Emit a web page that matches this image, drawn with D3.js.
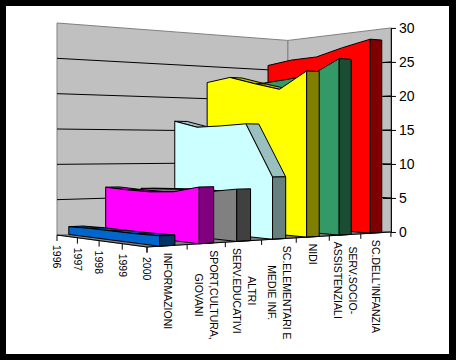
<!DOCTYPE html>
<html>
<head>
<meta charset="utf-8">
<title>Chart</title>
<script src="https://cdnjs.cloudflare.com/ajax/libs/d3/7.8.5/d3.min.js"></script>
<style>
  html, body { margin: 0; padding: 0; background: #000; }
  svg { display: block; }
  text { font-family: "Liberation Sans", Arial, sans-serif; fill: #000; }
</style>
</head>
<body>
<svg id="chart" width="456" height="360"></svg>
<script>
// data
const years = ['1996', '1997', '1998', '1999', '2000'];
const categories = ['INFORMAZIONI', 'SPORT,CULTURA,|GIOVANI', 'ALTRI|SERV.EDUCATIVI', 'SC.ELEMENTARI E|MEDIE INF.', 'NIDI', 'SERV.SOCIO-|ASSISTENZIALI', "SC.DELL'INFANZIA"];
const informazioni = [1.1, 1.2, 1.2, 1.2, 1.3];
const sport = [6.6, 6.4, 6.3, 6.5, 7.3];
const servEducativi = [6.3, 6.4, 6.5, 6.4, 6.9];
const scElementari = [16.4, 15.4, 15.5, 15.7, 8.4];
const nidi = [22.5, 23, 21.8, 20.7, 23];
const servSocio = [22, 22.3, 22.6, 23, 25];
const scInfanzia = [25.7, 26.2, 26.3, 27.3, 28.1];
const valueTicks = [0, 5, 10, 15, 20, 25, 30];

const seriesValues = [informazioni, sport, servEducativi, scElementari, nidi, servSocio, scInfanzia];
const faceColors = ['#0066cc', '#ff00ff', '#808080', '#ccffff', '#ffff00', '#339966', '#ff0000'];

const svg = d3.select('#chart');

// white page inside the black frame
svg.append('rect').attr('x', 6).attr('y', 6).attr('width', 443).attr('height', 348).attr('fill', '#fff');

const xYear = d3.scalePoint().domain(years).range([0, 1]);
const zCat = d3.scaleBand().domain(categories).range([0, 1]).paddingInner(0.62).paddingOuter(0.31);
const zStep = zCat.step();
const vScale = d3.scaleLinear().domain([0, 30]).range([0, 212]);

// perspective projection: t along years, u into the depth, v = value
function project(t, u, v) {
    const w = 1 - 0.121 * t + 0.16 * u;
    return [
        (57 + 72.2 * t + 277 * u) / w,
        (235 - 17.9 * t + 23.9 * u - vScale(v)) / w
    ];
}

const outline = d3.line();
function poly(g, pts, fill, stroke) {
    g.append('path')
        .attr('d', outline(pts) + 'Z')
        .attr('fill', fill)
        .attr('stroke', stroke || '#000')
        .attr('stroke-width', 1)
        .attr('stroke-linejoin', 'miter');
}

// walls and floor
const walls = svg.append('g');
poly(walls, [project(0, 0, 0), project(1, 0, 0), project(1, 1, 0), project(0, 1, 0)], '#808080', '#808080');
poly(walls, [project(0, 0, 0), project(0, 0, 30), project(0, 1, 30), project(0, 1, 0)], '#c0c0c0', '#808080');
poly(walls, [project(0, 1, 0), project(0, 1, 30), project(1, 1, 30), project(1, 1, 0)], '#c0c0c0', '#808080');

// gridlines on both walls
valueTicks.filter(d => d > 0 && d < 30).forEach(d => {
    walls.append('path')
        .attr('d', outline([project(0, 0, d), project(0, 1, d), project(1, 1, d)]))
        .attr('fill', 'none')
        .attr('stroke', '#000');
});

// ribbons, back to front
const ribbons = svg.append('g');
for (let i = categories.length - 1; i >= 0; i--) {
    const u0 = zCat(categories[i]);
    const u1 = u0 + zCat.bandwidth();
    const values = seriesValues[i];
    const base = d3.color(faceColors[i]);
    const g = ribbons.append('g');

    // top faces that look at the viewer (d3.polygonArea is positive for those here)
    for (let j = 0; j < years.length - 1; j++) {
        const t0 = xYear(years[j]);
        const t1 = xYear(years[j + 1]);
        const pts = [project(t0, u0, values[j]), project(t1, u0, values[j + 1]), project(t1, u1, values[j + 1]), project(t0, u1, values[j])];
        if (d3.polygonArea(pts) > 0) {
            poly(g, pts, d3.rgb(base.r * 0.75, base.g * 0.75, base.b * 0.75).formatHex());
        }
    }

    // front face
    const front = years.map((y, j) => project(xYear(y), u0, values[j]));
    front.push(project(1, u0, 0), project(0, u0, 0));
    poly(g, front, faceColors[i]);

    // end face at the last year
    const last = values[values.length - 1];
    poly(g, [project(1, u0, 0), project(1, u0, last), project(1, u1, last), project(1, u1, 0)], d3.rgb(base.r * 0.5, base.g * 0.5, base.b * 0.5).formatHex());
}

// floor axes
const axes = svg.append('g');
axes.append('path')
    .attr('d', outline([project(0, 0, 0), project(1, 0, 0), project(1, 1, 0)]))
    .attr('fill', 'none')
    .attr('stroke', '#000');

years.forEach(y => {
    const p = project(xYear(y), 0, 0);
    axes.append('line').attr('x1', p[0]).attr('x2', p[0]).attr('y1', p[1]).attr('y2', p[1] + 6).attr('stroke', '#000');
    axes.append('text')
        .attr('transform', `translate(${p[0]},${p[1] + 10}) rotate(90)`)
        .attr('dy', '0.35em')
        .attr('font-size', 10.5)
        .text(y);
});

d3.range(categories.length + 1).forEach(i => {
    const p = project(1, i * zStep, 0);
    axes.append('line').attr('x1', p[0]).attr('x2', p[0]).attr('y1', p[1]).attr('y2', p[1] + 5).attr('stroke', '#000');
});

// category labels: first line on the right, short lines centred on the long one
categories.forEach((c, i) => {
    const p = project(1, (i + 0.5) * zStep, 0);
    const lines = c.split('|');
    const g = axes.append('g');
    const texts = lines.map(line => g.append('text')
        .attr('dy', '0.35em')
        .attr('font-size', 10.5)
        .text(line));
    const lengths = texts.map(t => t.node().getComputedTextLength());
    const longest = d3.max(lengths);
    texts.forEach((t, k) => {
        const x = p[0] + ((lines.length - 1) / 2 - k) * 15;
        const y = p[1] + 7 + (longest - lengths[k]) / 2;
        t.attr('transform', `translate(${x},${y}) rotate(90)`);
    });
});

// value axis on the right wall
const yRight = d3.scaleLinear().domain([0, 30]).range([project(1, 1, 0)[1], project(1, 1, 30)[1]]);
const rightAxis = svg.append('g')
    .attr('transform', `translate(${project(1, 1, 0)[0]},0)`)
    .call(d3.axisRight(yRight).tickValues(valueTicks).tickSize(5).tickSizeOuter(0).tickPadding(3));
rightAxis.selectAll('.domain').attr('stroke', '#000');
rightAxis.selectAll('.tick line').attr('x1', -8).attr('stroke', '#000');
rightAxis.selectAll('.tick').filter(d => d === 0 || d === 30).select('line').attr('x1', 0);
rightAxis.selectAll('text').attr('font-size', 14).attr('font-family', '"Liberation Sans", Arial, sans-serif');
</script>
</body>
</html>
